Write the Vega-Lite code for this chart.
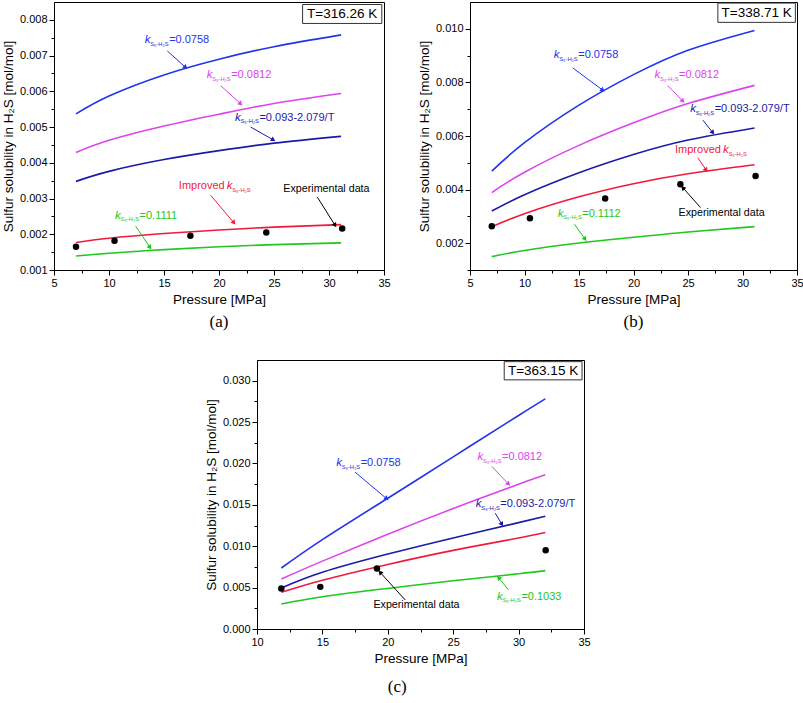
{
  "$schema": "https://vega.github.io/schema/vega-lite/v6.json",
  "background": "white",
  "padding": {"left": 0, "top": 1, "right": 0, "bottom": 4},
  "spacing": 29,
  "datasets": {
    "curves": [
      {"panel": "a", "series": "0.0758", "x": 7, "y": 0.00537},
      {"panel": "a", "series": "0.0758", "x": 10, "y": 0.00587},
      {"panel": "a", "series": "0.0758", "x": 15, "y": 0.00646},
      {"panel": "a", "series": "0.0758", "x": 20, "y": 0.0069},
      {"panel": "a", "series": "0.0758", "x": 25, "y": 0.00725},
      {"panel": "a", "series": "0.0758", "x": 31.1, "y": 0.00758},
      {"panel": "a", "series": "0.0812", "x": 7, "y": 0.00429},
      {"panel": "a", "series": "0.0812", "x": 10, "y": 0.00463},
      {"panel": "a", "series": "0.0812", "x": 15, "y": 0.00503},
      {"panel": "a", "series": "0.0812", "x": 20, "y": 0.00536},
      {"panel": "a", "series": "0.0812", "x": 25, "y": 0.00566},
      {"panel": "a", "series": "0.0812", "x": 31.1, "y": 0.00594},
      {"panel": "a", "series": "0.093-2.079/T", "x": 7, "y": 0.00348},
      {"panel": "a", "series": "0.093-2.079/T", "x": 10, "y": 0.00376},
      {"panel": "a", "series": "0.093-2.079/T", "x": 15, "y": 0.00409},
      {"panel": "a", "series": "0.093-2.079/T", "x": 20, "y": 0.00434},
      {"panel": "a", "series": "0.093-2.079/T", "x": 25, "y": 0.00455},
      {"panel": "a", "series": "0.093-2.079/T", "x": 31.1, "y": 0.00474},
      {"panel": "a", "series": "Improved", "x": 7, "y": 0.00177},
      {"panel": "a", "series": "Improved", "x": 10, "y": 0.00189},
      {"panel": "a", "series": "Improved", "x": 15, "y": 0.00202},
      {"panel": "a", "series": "Improved", "x": 20, "y": 0.00212},
      {"panel": "a", "series": "Improved", "x": 25, "y": 0.0022},
      {"panel": "a", "series": "Improved", "x": 31.1, "y": 0.00227},
      {"panel": "a", "series": "Fitted", "x": 7, "y": 0.00139},
      {"panel": "a", "series": "Fitted", "x": 10, "y": 0.00147},
      {"panel": "a", "series": "Fitted", "x": 15, "y": 0.00157},
      {"panel": "a", "series": "Fitted", "x": 20, "y": 0.00165},
      {"panel": "a", "series": "Fitted", "x": 25, "y": 0.00171},
      {"panel": "a", "series": "Fitted", "x": 31.1, "y": 0.00176},
      {"panel": "b", "series": "0.0758", "x": 7, "y": 0.00469},
      {"panel": "b", "series": "0.0758", "x": 10, "y": 0.00575},
      {"panel": "b", "series": "0.0758", "x": 15, "y": 0.00715},
      {"panel": "b", "series": "0.0758", "x": 20, "y": 0.00829},
      {"panel": "b", "series": "0.0758", "x": 25, "y": 0.0092},
      {"panel": "b", "series": "0.0758", "x": 31.1, "y": 0.00994},
      {"panel": "b", "series": "0.0812", "x": 7, "y": 0.00389},
      {"panel": "b", "series": "0.0812", "x": 10, "y": 0.00465},
      {"panel": "b", "series": "0.0812", "x": 15, "y": 0.00565},
      {"panel": "b", "series": "0.0812", "x": 20, "y": 0.00649},
      {"panel": "b", "series": "0.0812", "x": 25, "y": 0.00721},
      {"panel": "b", "series": "0.0812", "x": 31.1, "y": 0.00789},
      {"panel": "b", "series": "0.093-2.079/T", "x": 7, "y": 0.0032},
      {"panel": "b", "series": "0.093-2.079/T", "x": 10, "y": 0.00381},
      {"panel": "b", "series": "0.093-2.079/T", "x": 15, "y": 0.00463},
      {"panel": "b", "series": "0.093-2.079/T", "x": 20, "y": 0.00531},
      {"panel": "b", "series": "0.093-2.079/T", "x": 25, "y": 0.00585},
      {"panel": "b", "series": "0.093-2.079/T", "x": 31.1, "y": 0.0063},
      {"panel": "b", "series": "Improved", "x": 7, "y": 0.00261},
      {"panel": "b", "series": "Improved", "x": 10, "y": 0.0031},
      {"panel": "b", "series": "Improved", "x": 15, "y": 0.00373},
      {"panel": "b", "series": "Improved", "x": 20, "y": 0.00422},
      {"panel": "b", "series": "Improved", "x": 25, "y": 0.00459},
      {"panel": "b", "series": "Improved", "x": 31.1, "y": 0.00493},
      {"panel": "b", "series": "Fitted", "x": 7, "y": 0.0015},
      {"panel": "b", "series": "Fitted", "x": 10, "y": 0.00173},
      {"panel": "b", "series": "Fitted", "x": 15, "y": 0.00201},
      {"panel": "b", "series": "Fitted", "x": 20, "y": 0.00222},
      {"panel": "b", "series": "Fitted", "x": 25, "y": 0.00242},
      {"panel": "b", "series": "Fitted", "x": 31.1, "y": 0.00262},
      {"panel": "c", "series": "0.0758", "x": 11.86, "y": 0.00737},
      {"panel": "c", "series": "0.0758", "x": 15, "y": 0.0108},
      {"panel": "c", "series": "0.0758", "x": 20, "y": 0.0158},
      {"panel": "c", "series": "0.0758", "x": 25, "y": 0.0208},
      {"panel": "c", "series": "0.0758", "x": 30, "y": 0.0258},
      {"panel": "c", "series": "0.0758", "x": 32.04, "y": 0.0278},
      {"panel": "c", "series": "0.0812", "x": 11.86, "y": 0.00604},
      {"panel": "c", "series": "0.0812", "x": 15, "y": 0.0082},
      {"panel": "c", "series": "0.0812", "x": 20, "y": 0.01145},
      {"panel": "c", "series": "0.0812", "x": 25, "y": 0.01455},
      {"panel": "c", "series": "0.0812", "x": 30, "y": 0.0175},
      {"panel": "c", "series": "0.0812", "x": 32.04, "y": 0.01864},
      {"panel": "c", "series": "0.093-2.079/T", "x": 11.86, "y": 0.00495},
      {"panel": "c", "series": "0.093-2.079/T", "x": 15, "y": 0.00685},
      {"panel": "c", "series": "0.093-2.079/T", "x": 20, "y": 0.00905},
      {"panel": "c", "series": "0.093-2.079/T", "x": 25, "y": 0.011},
      {"panel": "c", "series": "0.093-2.079/T", "x": 30, "y": 0.01285},
      {"panel": "c", "series": "0.093-2.079/T", "x": 32.04, "y": 0.01362},
      {"panel": "c", "series": "Improved", "x": 11.86, "y": 0.00443},
      {"panel": "c", "series": "Improved", "x": 15, "y": 0.0059},
      {"panel": "c", "series": "Improved", "x": 20, "y": 0.0078},
      {"panel": "c", "series": "Improved", "x": 25, "y": 0.0095},
      {"panel": "c", "series": "Improved", "x": 30, "y": 0.011},
      {"panel": "c", "series": "Improved", "x": 32.04, "y": 0.01165},
      {"panel": "c", "series": "Fitted", "x": 11.86, "y": 0.00302},
      {"panel": "c", "series": "Fitted", "x": 15, "y": 0.0039},
      {"panel": "c", "series": "Fitted", "x": 20, "y": 0.0049},
      {"panel": "c", "series": "Fitted", "x": 25, "y": 0.00582},
      {"panel": "c", "series": "Fitted", "x": 30, "y": 0.00667},
      {"panel": "c", "series": "Fitted", "x": 32.04, "y": 0.00705}
    ],
    "exp": [
      {"panel": "a", "x": 7.0, "y": 0.00165},
      {"panel": "a", "x": 10.5, "y": 0.00182},
      {"panel": "a", "x": 17.4, "y": 0.00196},
      {"panel": "a", "x": 24.3, "y": 0.00205},
      {"panel": "a", "x": 31.2, "y": 0.00216},
      {"panel": "b", "x": 7.0, "y": 0.00263},
      {"panel": "b", "x": 10.5, "y": 0.00293},
      {"panel": "b", "x": 17.4, "y": 0.00367},
      {"panel": "b", "x": 24.3, "y": 0.0042},
      {"panel": "b", "x": 31.2, "y": 0.00451},
      {"panel": "c", "x": 11.86, "y": 0.00489},
      {"panel": "c", "x": 14.84, "y": 0.00509},
      {"panel": "c", "x": 19.17, "y": 0.0073},
      {"panel": "c", "x": 32.07, "y": 0.00952}
    ],
    "labels": [
      {"panel": "a", "series": "0.0758", "x": 13.24, "y": 0.00734, "post": "=0.0758"},
      {"panel": "a", "series": "0.0812", "x": 18.88, "y": 0.00637, "post": "=0.0812"},
      {"panel": "a", "series": "0.093-2.079/T", "x": 21.45, "y": 0.00518, "post": "=0.093-2.079/T"},
      {"panel": "a", "series": "Improved", "x": 20.7, "y": 0.00326, "pre": "Improved", "post": ""},
      {"panel": "a", "series": "Fitted", "x": 10.55, "y": 0.00244, "post": "=0.1111"},
      {"panel": "b", "series": "0.0758", "x": 12.68, "y": 0.00891, "post": "=0.0758"},
      {"panel": "b", "series": "0.0812", "x": 21.93, "y": 0.00816, "post": "=0.0812"},
      {"panel": "b", "series": "0.093-2.079/T", "x": 25.2, "y": 0.00689, "post": "=0.093-2.079/T"},
      {"panel": "b", "series": "Improved", "x": 28.2, "y": 0.00535, "pre": "Improved", "post": ""},
      {"panel": "b", "series": "Fitted", "x": 13.05, "y": 0.00299, "post": "=0.1112"},
      {"panel": "c", "series": "0.0758", "x": 16.05, "y": 0.01964, "post": "=0.0758"},
      {"panel": "c", "series": "0.0812", "x": 26.86, "y": 0.02036, "post": "=0.0812"},
      {"panel": "c", "series": "0.093-2.079/T", "x": 26.73, "y": 0.01472, "post": "=0.093-2.079/T"},
      {"panel": "c", "series": "Fitted", "x": 28.34, "y": 0.00351, "post": "=0.1033"}
    ],
    "notes": [
      {"panel": "a", "label": "Experimental data", "x": 25.85, "y": 0.00318},
      {"panel": "b", "label": "Experimental data", "x": 24.13, "y": 0.00302},
      {"panel": "c", "label": "Experimental data", "x": 18.9, "y": 0.00258}
    ],
    "arrows": [
      {"panel": "a", "series": "0.0758", "x": 16.97, "y": 0.00667, "x2": 15.3, "y2": 0.00713},
      {"panel": "a", "series": "0.0812", "x": 21.97, "y": 0.00565, "x2": 20.15, "y2": 0.00616},
      {"panel": "a", "series": "0.093-2.079/T", "x": 24.94, "y": 0.00464, "x2": 22.88, "y2": 0.005},
      {"panel": "a", "series": "Improved", "x": 21.36, "y": 0.00232, "x2": 19.24, "y2": 0.00309},
      {"panel": "a", "series": "Experimental data", "x": 30.55, "y": 0.00225, "x2": 28.94, "y2": 0.00304},
      {"panel": "a", "series": "Fitted", "x": 13.73, "y": 0.00163, "x2": 12.42, "y2": 0.00223},
      {"panel": "b", "series": "0.0758", "x": 17.18, "y": 0.00771, "x2": 14.43, "y2": 0.00854},
      {"panel": "b", "series": "0.0812", "x": 24.53, "y": 0.0073, "x2": 23.15, "y2": 0.00788},
      {"panel": "b", "series": "0.093-2.079/T", "x": 27.28, "y": 0.00612, "x2": 26.37, "y2": 0.00659},
      {"panel": "b", "series": "Improved", "x": 26.67, "y": 0.00473, "x2": 25.9, "y2": 0.00519},
      {"panel": "b", "series": "Experimental data", "x": 24.53, "y": 0.00407, "x2": 26.15, "y2": 0.00333},
      {"panel": "b", "series": "Fitted", "x": 15.56, "y": 0.00215, "x2": 14.58, "y2": 0.00271},
      {"panel": "c", "series": "0.0758", "x": 19.92, "y": 0.01573, "x2": 17.5, "y2": 0.01895},
      {"panel": "c", "series": "0.0812", "x": 29.23, "y": 0.0175, "x2": 27.96, "y2": 0.01964},
      {"panel": "c", "series": "0.093-2.079/T", "x": 28.72, "y": 0.01266, "x2": 28.21, "y2": 0.01399},
      {"panel": "c", "series": "Experimental data", "x": 19.41, "y": 0.00685, "x2": 21.33, "y2": 0.00351},
      {"panel": "c", "series": "Fitted", "x": 28.47, "y": 0.00621, "x2": 29.23, "y2": 0.00472}
    ],
    "tbox": [
      {"panel": "a", "x": 27.6, "x2": 34.8, "y": 0.00843, "y2": 0.0079},
      {"panel": "b", "x": 27.74, "x2": 34.85, "y": 0.01096, "y2": 0.01024},
      {"panel": "c", "x": 28.9, "x2": 34.85, "y": 0.0323, "y2": 0.0301}
    ],
    "tlabel": [
      {"panel": "a", "label": "T=316.26 K", "x": 31.2, "y": 0.008165},
      {"panel": "b", "label": "T=338.71 K", "x": 31.3, "y": 0.0106},
      {"panel": "c", "label": "T=363.15 K", "x": 31.87, "y": 0.0312}
    ]
  },
  "vconcat": [
    {
      "spacing": 25,
      "hconcat": [
        {
          "width": 330,
          "height": 268,
          "title": {"text": "(a)", "orient": "bottom", "offset": 8},
          "encoding": {
            "x": {"field": "x", "type": "quantitative", "scale": {"domain": [5, 35], "nice": false, "zero": false},
              "axis": {"title": "Pressure [MPa]", "values": [5, 7.5, 10, 12.5, 15, 17.5, 20, 22.5, 25, 27.5, 30, 32.5, 35],
                "labelExpr": "datum.value % 5 == 0 ? datum.label : ''",
                "tickSize": {"condition": {"test": "datum.value % 5 == 0", "value": 5}, "value": 3}}},
            "y": {"field": "y", "type": "quantitative", "scale": {"domain": [0.001, 0.0085], "nice": false, "zero": false},
              "axis": {"title": "Sulfur solubility in H₂S [mol/mol]", "format": ".3f",
                "values": [0.001, 0.0015, 0.002, 0.0025, 0.003, 0.0035, 0.004, 0.0045, 0.005, 0.0055, 0.006, 0.0065, 0.007, 0.0075, 0.008],
                "labelExpr": "round(datum.value * 10000) % 10 == 0 ? datum.label : ''",
                "tickSize": {"condition": {"test": "round(datum.value * 10000) % 10 == 0", "value": 5}, "value": 3}}}
          },
          "layer": [
            {"data": {"name": "tbox"}, "transform": [{"filter": "datum.panel == 'a'"}],
              "mark": {"type": "rect", "fill": "white", "stroke": "#333333", "strokeWidth": 1},
              "encoding": {"x2": {"field": "x2"}, "y2": {"field": "y2"}}},
            {"data": {"name": "tlabel"}, "transform": [{"filter": "datum.panel == 'a'"}],
              "mark": {"type": "text", "fontSize": 13.5, "align": "center", "baseline": "middle", "color": "black"},
              "encoding": {"text": {"field": "label"}}},
            {"data": {"name": "curves"}, "transform": [{"filter": "datum.panel == 'a'"}],
              "mark": {"type": "line", "strokeWidth": 1.6, "interpolate": "natural"},
              "encoding": {"color": {"field": "series", "type": "nominal", "legend": null,
                "scale": {"domain": ["0.0758", "0.0812", "0.093-2.079/T", "Improved", "Fitted", "Experimental data"], "range": ["#2233ee", "#dd44ee", "#1a1aaa", "#f01a3c", "#1ec81e", "#000000"]}}}},
            {"data": {"name": "exp"}, "transform": [{"filter": "datum.panel == 'a'"}],
              "mark": {"type": "point", "filled": true, "color": "black", "size": 42, "opacity": 1}},
            {"data": {"name": "arrows"}, "transform": [{"filter": "datum.panel == 'a'"}],
              "mark": {"type": "rule", "strokeWidth": 1},
              "encoding": {"x2": {"field": "x2"}, "y2": {"field": "y2"},
                "color": {"field": "series", "type": "nominal", "legend": null,
                  "scale": {"domain": ["0.0758", "0.0812", "0.093-2.079/T", "Improved", "Fitted", "Experimental data"], "range": ["#2233ee", "#dd44ee", "#1a1aaa", "#f01a3c", "#1ec81e", "#000000"]}}}},
            {"data": {"name": "arrows"}, "transform": [{"filter": "datum.panel == 'a'"}, {"calculate": "atan2((datum.x - datum.x2) * 11, (datum.y - datum.y2) * 35733) * 180 / PI", "as": "ang"}],
              "mark": {"type": "point", "shape": "triangle-up", "filled": true, "size": 28, "opacity": 1},
              "encoding": {"angle": {"field": "ang", "type": "quantitative", "scale": null},
                "color": {"field": "series", "type": "nominal", "legend": null,
                  "scale": {"domain": ["0.0758", "0.0812", "0.093-2.079/T", "Improved", "Fitted", "Experimental data"], "range": ["#2233ee", "#dd44ee", "#1a1aaa", "#f01a3c", "#1ec81e", "#000000"]}}}},
            {"data": {"name": "labels"}, "transform": [{"filter": "datum.panel == 'a' && datum.pre"}],
              "mark": {"type": "text", "align": "right", "baseline": "alphabetic", "dx": -2, "fontSize": 11},
              "encoding": {"text": {"field": "pre"},
                "color": {"field": "series", "type": "nominal", "legend": null,
                  "scale": {"domain": ["0.0758", "0.0812", "0.093-2.079/T", "Improved", "Fitted", "Experimental data"], "range": ["#2233ee", "#dd44ee", "#1a1aaa", "#f01a3c", "#1ec81e", "#000000"]}}}},
            {"data": {"name": "labels"}, "transform": [{"filter": "datum.panel == 'a'"}],
              "mark": {"type": "text", "align": "left", "baseline": "alphabetic", "fontStyle": "italic", "fontSize": 11.5},
              "encoding": {"text": {"value": "k"},
                "color": {"field": "series", "type": "nominal", "legend": null,
                  "scale": {"domain": ["0.0758", "0.0812", "0.093-2.079/T", "Improved", "Fitted", "Experimental data"], "range": ["#2233ee", "#dd44ee", "#1a1aaa", "#f01a3c", "#1ec81e", "#000000"]}}}},
            {"data": {"name": "labels"}, "transform": [{"filter": "datum.panel == 'a'"}],
              "mark": {"type": "text", "align": "left", "baseline": "alphabetic", "fontSize": 5.8, "dx": 5.5, "dy": 2.5},
              "encoding": {"text": {"value": "S₈-H₂S"},
                "color": {"field": "series", "type": "nominal", "legend": null,
                  "scale": {"domain": ["0.0758", "0.0812", "0.093-2.079/T", "Improved", "Fitted", "Experimental data"], "range": ["#2233ee", "#dd44ee", "#1a1aaa", "#f01a3c", "#1ec81e", "#000000"]}}}},
            {"data": {"name": "labels"}, "transform": [{"filter": "datum.panel == 'a'"}],
              "mark": {"type": "text", "align": "left", "baseline": "alphabetic", "fontSize": 11, "dx": 24.5},
              "encoding": {"text": {"field": "post"},
                "color": {"field": "series", "type": "nominal", "legend": null,
                  "scale": {"domain": ["0.0758", "0.0812", "0.093-2.079/T", "Improved", "Fitted", "Experimental data"], "range": ["#2233ee", "#dd44ee", "#1a1aaa", "#f01a3c", "#1ec81e", "#000000"]}}}},
            {"data": {"name": "notes"}, "transform": [{"filter": "datum.panel == 'a'"}],
              "mark": {"type": "text", "align": "left", "baseline": "alphabetic", "fontSize": 10.7, "color": "black"},
              "encoding": {"text": {"field": "label"}}}
          ]
        },
        {
          "width": 327,
          "height": 268,
          "title": {"text": "(b)", "orient": "bottom", "offset": 8},
          "encoding": {
            "x": {"field": "x", "type": "quantitative", "scale": {"domain": [5, 35], "nice": false, "zero": false},
              "axis": {"title": "Pressure [MPa]", "values": [5, 7.5, 10, 12.5, 15, 17.5, 20, 22.5, 25, 27.5, 30, 32.5, 35],
                "labelExpr": "datum.value % 5 == 0 ? datum.label : ''",
                "tickSize": {"condition": {"test": "datum.value % 5 == 0", "value": 5}, "value": 3}}},
            "y": {"field": "y", "type": "quantitative", "scale": {"domain": [0.001, 0.011], "nice": false, "zero": false},
              "axis": {"title": "Sulfur solubility in H₂S [mol/mol]", "format": ".3f",
                "values": [0.001, 0.002, 0.003, 0.004, 0.005, 0.006, 0.007, 0.008, 0.009, 0.01],
                "labelExpr": "round(datum.value * 1000) % 2 == 0 ? datum.label : ''",
                "tickSize": {"condition": {"test": "round(datum.value * 1000) % 2 == 0", "value": 5}, "value": 3}}}
          },
          "layer": [
            {"data": {"name": "tbox"}, "transform": [{"filter": "datum.panel == 'b'"}],
              "mark": {"type": "rect", "fill": "white", "stroke": "#333333", "strokeWidth": 1},
              "encoding": {"x2": {"field": "x2"}, "y2": {"field": "y2"}}},
            {"data": {"name": "tlabel"}, "transform": [{"filter": "datum.panel == 'b'"}],
              "mark": {"type": "text", "fontSize": 13.5, "align": "center", "baseline": "middle", "color": "black"},
              "encoding": {"text": {"field": "label"}}},
            {"data": {"name": "curves"}, "transform": [{"filter": "datum.panel == 'b'"}],
              "mark": {"type": "line", "strokeWidth": 1.6, "interpolate": "natural"},
              "encoding": {"color": {"field": "series", "type": "nominal", "legend": null,
                "scale": {"domain": ["0.0758", "0.0812", "0.093-2.079/T", "Improved", "Fitted", "Experimental data"], "range": ["#2233ee", "#dd44ee", "#1a1aaa", "#f01a3c", "#1ec81e", "#000000"]}}}},
            {"data": {"name": "exp"}, "transform": [{"filter": "datum.panel == 'b'"}],
              "mark": {"type": "point", "filled": true, "color": "black", "size": 42, "opacity": 1}},
            {"data": {"name": "arrows"}, "transform": [{"filter": "datum.panel == 'b'"}],
              "mark": {"type": "rule", "strokeWidth": 1},
              "encoding": {"x2": {"field": "x2"}, "y2": {"field": "y2"},
                "color": {"field": "series", "type": "nominal", "legend": null,
                  "scale": {"domain": ["0.0758", "0.0812", "0.093-2.079/T", "Improved", "Fitted", "Experimental data"], "range": ["#2233ee", "#dd44ee", "#1a1aaa", "#f01a3c", "#1ec81e", "#000000"]}}}},
            {"data": {"name": "arrows"}, "transform": [{"filter": "datum.panel == 'b'"}, {"calculate": "atan2((datum.x - datum.x2) * 10.9, (datum.y - datum.y2) * 26800) * 180 / PI", "as": "ang"}],
              "mark": {"type": "point", "shape": "triangle-up", "filled": true, "size": 28, "opacity": 1},
              "encoding": {"angle": {"field": "ang", "type": "quantitative", "scale": null},
                "color": {"field": "series", "type": "nominal", "legend": null,
                  "scale": {"domain": ["0.0758", "0.0812", "0.093-2.079/T", "Improved", "Fitted", "Experimental data"], "range": ["#2233ee", "#dd44ee", "#1a1aaa", "#f01a3c", "#1ec81e", "#000000"]}}}},
            {"data": {"name": "labels"}, "transform": [{"filter": "datum.panel == 'b' && datum.pre"}],
              "mark": {"type": "text", "align": "right", "baseline": "alphabetic", "dx": -2, "fontSize": 11},
              "encoding": {"text": {"field": "pre"},
                "color": {"field": "series", "type": "nominal", "legend": null,
                  "scale": {"domain": ["0.0758", "0.0812", "0.093-2.079/T", "Improved", "Fitted", "Experimental data"], "range": ["#2233ee", "#dd44ee", "#1a1aaa", "#f01a3c", "#1ec81e", "#000000"]}}}},
            {"data": {"name": "labels"}, "transform": [{"filter": "datum.panel == 'b'"}],
              "mark": {"type": "text", "align": "left", "baseline": "alphabetic", "fontStyle": "italic", "fontSize": 11.5},
              "encoding": {"text": {"value": "k"},
                "color": {"field": "series", "type": "nominal", "legend": null,
                  "scale": {"domain": ["0.0758", "0.0812", "0.093-2.079/T", "Improved", "Fitted", "Experimental data"], "range": ["#2233ee", "#dd44ee", "#1a1aaa", "#f01a3c", "#1ec81e", "#000000"]}}}},
            {"data": {"name": "labels"}, "transform": [{"filter": "datum.panel == 'b'"}],
              "mark": {"type": "text", "align": "left", "baseline": "alphabetic", "fontSize": 5.8, "dx": 5.5, "dy": 2.5},
              "encoding": {"text": {"value": "S₈-H₂S"},
                "color": {"field": "series", "type": "nominal", "legend": null,
                  "scale": {"domain": ["0.0758", "0.0812", "0.093-2.079/T", "Improved", "Fitted", "Experimental data"], "range": ["#2233ee", "#dd44ee", "#1a1aaa", "#f01a3c", "#1ec81e", "#000000"]}}}},
            {"data": {"name": "labels"}, "transform": [{"filter": "datum.panel == 'b'"}],
              "mark": {"type": "text", "align": "left", "baseline": "alphabetic", "fontSize": 11, "dx": 24.5},
              "encoding": {"text": {"field": "post"},
                "color": {"field": "series", "type": "nominal", "legend": null,
                  "scale": {"domain": ["0.0758", "0.0812", "0.093-2.079/T", "Improved", "Fitted", "Experimental data"], "range": ["#2233ee", "#dd44ee", "#1a1aaa", "#f01a3c", "#1ec81e", "#000000"]}}}},
            {"data": {"name": "notes"}, "transform": [{"filter": "datum.panel == 'b'"}],
              "mark": {"type": "text", "align": "left", "baseline": "alphabetic", "fontSize": 10.7, "color": "black"},
              "encoding": {"text": {"field": "label"}}}
          ]
        }
      ]
    },
    {
      "spacing": 0,
      "hconcat": [
        {
          "width": 149,
          "height": 10,
          "view": {"stroke": null},
          "data": {"values": [{}]},
          "mark": {"type": "point", "opacity": 0}
        },
        {
          "width": 327,
          "height": 269,
          "title": {"text": "(c)", "orient": "bottom", "offset": 14, "frame": "bounds"},
          "encoding": {
            "x": {"field": "x", "type": "quantitative", "scale": {"domain": [10, 35], "nice": false, "zero": false},
              "axis": {"title": "Pressure [MPa]", "values": [10, 12.5, 15, 17.5, 20, 22.5, 25, 27.5, 30, 32.5, 35],
                "labelExpr": "datum.value % 5 == 0 ? datum.label : ''",
                "tickSize": {"condition": {"test": "datum.value % 5 == 0", "value": 5}, "value": 3}}},
            "y": {"field": "y", "type": "quantitative", "scale": {"domain": [0, 0.0325], "nice": false, "zero": false},
              "axis": {"title": "Sulfur solubility in H₂S [mol/mol]", "format": ".3f",
                "values": [0, 0.0025, 0.005, 0.0075, 0.01, 0.0125, 0.015, 0.0175, 0.02, 0.0225, 0.025, 0.0275, 0.03],
                "labelExpr": "round(datum.value * 10000) % 50 == 0 ? datum.label : ''",
                "tickSize": {"condition": {"test": "round(datum.value * 10000) % 50 == 0", "value": 5}, "value": 3}}}
          },
          "layer": [
            {"data": {"name": "tbox"}, "transform": [{"filter": "datum.panel == 'c'"}],
              "mark": {"type": "rect", "fill": "white", "stroke": "#333333", "strokeWidth": 1},
              "encoding": {"x2": {"field": "x2"}, "y2": {"field": "y2"}}},
            {"data": {"name": "tlabel"}, "transform": [{"filter": "datum.panel == 'c'"}],
              "mark": {"type": "text", "fontSize": 13.5, "align": "center", "baseline": "middle", "color": "black"},
              "encoding": {"text": {"field": "label"}}},
            {"data": {"name": "curves"}, "transform": [{"filter": "datum.panel == 'c'"}],
              "mark": {"type": "line", "strokeWidth": 1.6, "interpolate": "natural"},
              "encoding": {"color": {"field": "series", "type": "nominal", "legend": null,
                "scale": {"domain": ["0.0758", "0.0812", "0.093-2.079/T", "Improved", "Fitted", "Experimental data"], "range": ["#2233ee", "#dd44ee", "#1a1aaa", "#f01a3c", "#1ec81e", "#000000"]}}}},
            {"data": {"name": "exp"}, "transform": [{"filter": "datum.panel == 'c'"}],
              "mark": {"type": "point", "filled": true, "color": "black", "size": 42, "opacity": 1}},
            {"data": {"name": "arrows"}, "transform": [{"filter": "datum.panel == 'c'"}],
              "mark": {"type": "rule", "strokeWidth": 1},
              "encoding": {"x2": {"field": "x2"}, "y2": {"field": "y2"},
                "color": {"field": "series", "type": "nominal", "legend": null,
                  "scale": {"domain": ["0.0758", "0.0812", "0.093-2.079/T", "Improved", "Fitted", "Experimental data"], "range": ["#2233ee", "#dd44ee", "#1a1aaa", "#f01a3c", "#1ec81e", "#000000"]}}}},
            {"data": {"name": "arrows"}, "transform": [{"filter": "datum.panel == 'c'"}, {"calculate": "atan2((datum.x - datum.x2) * 13.08, (datum.y - datum.y2) * 8277) * 180 / PI", "as": "ang"}],
              "mark": {"type": "point", "shape": "triangle-up", "filled": true, "size": 28, "opacity": 1},
              "encoding": {"angle": {"field": "ang", "type": "quantitative", "scale": null},
                "color": {"field": "series", "type": "nominal", "legend": null,
                  "scale": {"domain": ["0.0758", "0.0812", "0.093-2.079/T", "Improved", "Fitted", "Experimental data"], "range": ["#2233ee", "#dd44ee", "#1a1aaa", "#f01a3c", "#1ec81e", "#000000"]}}}},
            {"data": {"name": "labels"}, "transform": [{"filter": "datum.panel == 'c'"}],
              "mark": {"type": "text", "align": "left", "baseline": "alphabetic", "fontStyle": "italic", "fontSize": 11.5},
              "encoding": {"text": {"value": "k"},
                "color": {"field": "series", "type": "nominal", "legend": null,
                  "scale": {"domain": ["0.0758", "0.0812", "0.093-2.079/T", "Improved", "Fitted", "Experimental data"], "range": ["#2233ee", "#dd44ee", "#1a1aaa", "#f01a3c", "#1ec81e", "#000000"]}}}},
            {"data": {"name": "labels"}, "transform": [{"filter": "datum.panel == 'c'"}],
              "mark": {"type": "text", "align": "left", "baseline": "alphabetic", "fontSize": 5.8, "dx": 5.5, "dy": 2.5},
              "encoding": {"text": {"value": "S₈-H₂S"},
                "color": {"field": "series", "type": "nominal", "legend": null,
                  "scale": {"domain": ["0.0758", "0.0812", "0.093-2.079/T", "Improved", "Fitted", "Experimental data"], "range": ["#2233ee", "#dd44ee", "#1a1aaa", "#f01a3c", "#1ec81e", "#000000"]}}}},
            {"data": {"name": "labels"}, "transform": [{"filter": "datum.panel == 'c'"}],
              "mark": {"type": "text", "align": "left", "baseline": "alphabetic", "fontSize": 11, "dx": 24.5},
              "encoding": {"text": {"field": "post"},
                "color": {"field": "series", "type": "nominal", "legend": null,
                  "scale": {"domain": ["0.0758", "0.0812", "0.093-2.079/T", "Improved", "Fitted", "Experimental data"], "range": ["#2233ee", "#dd44ee", "#1a1aaa", "#f01a3c", "#1ec81e", "#000000"]}}}},
            {"data": {"name": "notes"}, "transform": [{"filter": "datum.panel == 'c'"}],
              "mark": {"type": "text", "align": "left", "baseline": "alphabetic", "fontSize": 10.7, "color": "black"},
              "encoding": {"text": {"field": "label"}}}
          ]
        }
      ]
    }
  ],
  "config": {
    "font": "Liberation Sans",
    "view": {"stroke": "black", "strokeWidth": 1},
    "text": {"font": "Liberation Sans"},
    "axis": {
      "grid": false,
      "domainColor": "black",
      "tickColor": "black",
      "labelColor": "black",
      "titleColor": "black",
      "labelFont": "Liberation Sans",
      "titleFont": "Liberation Sans",
      "labelFontSize": 11,
      "titleFontSize": 13.5,
      "titleFontWeight": "normal",
      "labelPadding": 2,
      "titlePadding": 4,
      "labelFlush": false,
      "labelOverlap": false
    },
    "title": {"font": "Liberation Serif", "fontSize": 17, "fontWeight": "normal", "color": "black"}
  }
}
